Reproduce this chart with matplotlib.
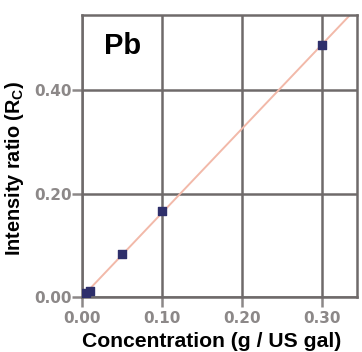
import matplotlib.pyplot as plt

# calibration data
conc = [0.0, 0.005, 0.01, 0.05, 0.10, 0.30]
ratio = [0.002, 0.007, 0.011, 0.083, 0.166, 0.487]
fit_x = [0.0, 0.36]
fit_slope = 1.627

x_ticks = [0.0, 0.1, 0.2, 0.3]
y_ticks = [0.0, 0.2, 0.4]

plt.rcParams['mathtext.fontset'] = 'custom'
plt.rcParams['mathtext.bf'] = 'Liberation Sans:bold'

fig = plt.figure(figsize=(3.62, 3.52), dpi=100)
ax = fig.add_axes([0.2265, 0.156, 0.76, 0.801])

grid_col = '#6f6a6a'
ax.plot(fit_x, [fit_slope * v for v in fit_x], color='#f2b9a9', lw=1.4, zorder=2)
ax.scatter(conc, ratio, marker='s', s=38, color='#2e2f6b', zorder=3)

ax.set_xlim(0, 0.344)
ax.set_ylim(0, 0.545)
ax.set_xticks(x_ticks)
ax.set_yticks(y_ticks)
ax.set_xticklabels([f"{v:.2f}" for v in x_ticks])
ax.set_yticklabels([f"{v:.2f}" for v in y_ticks])
ax.grid(True, color=grid_col, lw=1.8, zorder=1)
ax.set_axisbelow(True)
for s in ax.spines.values():
    s.set_color(grid_col)
    s.set_linewidth(1.8)
ax.tick_params(colors='#8c8888', labelsize=11, length=7, width=1.8)
ax.tick_params(axis='x', pad=3)
ax.tick_params(axis='y', pad=0.5)
for t in ax.get_xticklabels() + ax.get_yticklabels():
    t.set_fontweight('bold')

ax.set_xlabel("Concentration (g / US gal)", family='Liberation Sans', fontsize=15.2,
              fontweight='bold', labelpad=2)
ax.xaxis.set_label_coords(0.473, -0.125)
ax.set_ylabel(r"Intensity ratio (R$_\mathbf{C}$)", family='Liberation Sans', fontsize=14.3,
              fontweight='bold')
ax.yaxis.set_label_coords(-0.205, 0.457)
ax.text(0.08, 0.94, "Pb", transform=ax.transAxes, family='Liberation Sans', fontsize=21,
        fontweight='bold', va='top', ha='left')

fig.savefig("out.png", dpi=100)
